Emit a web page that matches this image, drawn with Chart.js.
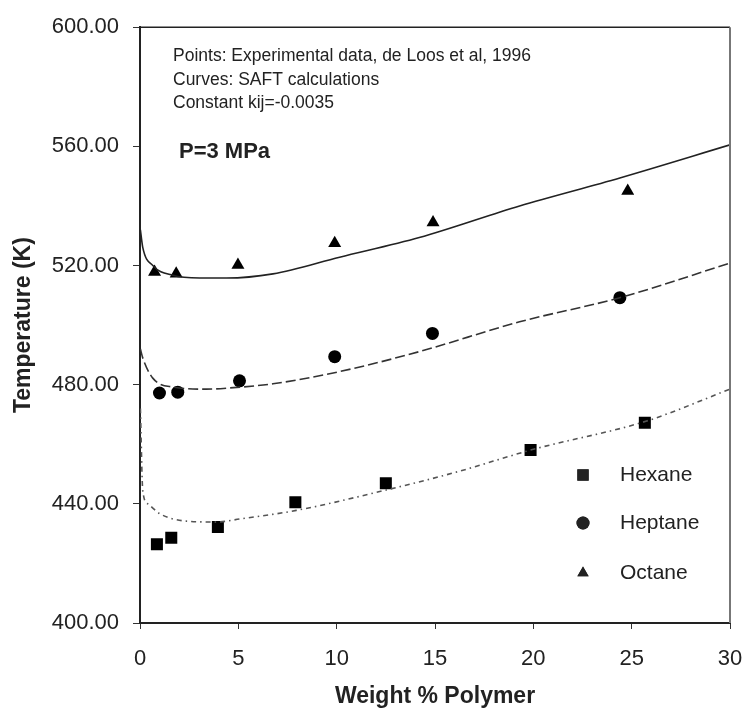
<!DOCTYPE html>
<html lang="en">
<head>
    <meta charset="UTF-8">
    <title>SAFT cloud points, P=3 MPa</title>
    <script src="https://cdn.jsdelivr.net/npm/chart.js"></script>
    <style>
        html, body { margin: 0; padding: 0; background: #fff; }
        #wrap { width: 744px; height: 708px; }
    </style>
</head>
<body>
    <div id="wrap"><canvas id="chart" width="744" height="708"></canvas></div>

    <script>
        // experimental points (de Loos et al)
        const hexaneX = [0.86, 1.59, 3.96, 7.9, 12.5, 19.86, 25.67];
        const hexaneT = [426.4, 428.6, 432.2, 440.5, 446.9, 458.1, 467.2];
        const heptaneX = [0.99, 1.92, 5.06, 9.9, 14.87, 24.4];
        const heptaneT = [477.2, 477.5, 481.3, 489.4, 497.2, 509.2];
        const octaneX = [0.74, 1.84, 4.98, 9.9, 14.9, 24.8];
        const octaneT = [517.8, 517.2, 520.2, 527.5, 534.4, 545.0];

        // SAFT curves
        const hexaneCurveX = [0.02, 0.14, 0.4, 1.0, 2.35, 3.9, 5.15, 7.95, 12.36, 16, 20, 25.76, 30];
        const hexaneCurveT = [472, 444.4, 440, 436.7, 434.2, 433.9, 435, 437.8, 444.4, 450.5, 458.3, 467.8, 478.5];
        const heptaneCurveX = [0.02, 0.14, 0.65, 1.67, 3.37, 4.55, 6.76, 10.15, 14.2, 19.3, 24.4, 30];
        const heptaneCurveT = [492, 489, 482.2, 479.2, 478.5, 478.9, 480.3, 484.4, 491.1, 501.1, 509.2, 520.8];
        const octaneCurveX = [0.02, 0.14, 0.65, 1.67, 3.03, 4.39, 6.76, 10.15, 14.2, 19.3, 24.4, 30];
        const octaneCurveT = [532, 526.1, 520, 516.7, 515.8, 515.8, 517.2, 522.8, 529.4, 540, 549.4, 560.5];

        const xTicks = [0, 5, 10, 15, 20, 25, 30];
        const yTicks = [400, 440, 480, 520, 560, 600];

        const notes = ['Points: Experimental data, de Loos et al, 1996', 'Curves: SAFT calculations', 'Constant kij=-0.0035'];
        const pressureNote = 'P=3 MPa';

        const FONT = '"Liberation Sans", Arial, sans-serif';

        function pts(xs, ys) {
            return xs.map((x, i) => ({ x: x, y: ys[i] }));
        }

        function curve(label, xs, ys, color, dash) {
            return {
                label: label,
                data: pts(xs, ys),
                showLine: true,
                pointRadius: 0,
                borderColor: color,
                borderWidth: 1.6,
                borderDash: dash,
                cubicInterpolationMode: 'monotone',
                fill: false,
                legendHidden: true
            };
        }

        function marks(label, xs, ys, style, radius) {
            return {
                label: label,
                data: pts(xs, ys),
                showLine: false,
                pointStyle: style,
                pointRadius: radius,
                pointBackgroundColor: '#000',
                pointBorderColor: '#000',
                pointBorderWidth: 0
            };
        }

        // frame + notes + legend
        const decor = {
            id: 'decor',
            afterDraw(chart) {
                const { ctx, chartArea: a } = chart;
                ctx.save();
                ctx.strokeStyle = '#222';
                ctx.lineWidth = 1.5;
                ctx.beginPath();
                ctx.moveTo(a.left, a.top);
                ctx.lineTo(a.right, a.top);
                ctx.stroke();
                ctx.strokeStyle = '#777';
                ctx.lineWidth = 2;
                ctx.beginPath();
                ctx.moveTo(a.right, a.top);
                ctx.lineTo(a.right, a.bottom);
                ctx.stroke();

                ctx.fillStyle = '#222';
                ctx.textBaseline = 'middle';
                ctx.font = '17.5px ' + FONT;
                const ny = [56, 80, 103];
                notes.forEach((t, i) => ctx.fillText(t, 173, ny[i]));
                ctx.font = 'bold 22px ' + FONT;
                ctx.fillText(pressureNote, 179, 152);

                // legend
                const items = chart.data.datasets.filter(d => !d.legendHidden);
                const ly = [475, 523, 573];
                ctx.font = '21px ' + FONT;
                items.forEach((d, i) => {
                    Chart.helpers.drawPoint(ctx, {
                        pointStyle: d.pointStyle,
                        radius: d.pointStyle === 'rect' ? 8 : 6.5,
                        borderWidth: 0,
                        rotation: 0
                    }, 583, ly[i]);
                    ctx.fill();
                    ctx.fillText(d.label, 620, ly[i]);
                });
                ctx.restore();
            }
        };

        new Chart(document.getElementById('chart'), {
            type: 'scatter',
            data: {
                datasets: [
                    curve('Octane SAFT', octaneCurveX, octaneCurveT, '#222', []),
                    curve('Heptane SAFT', heptaneCurveX, heptaneCurveT, '#333', [10, 4]),
                    curve('Hexane SAFT', hexaneCurveX, hexaneCurveT, '#555', [5, 4, 1.5, 4]),
                    marks('Hexane', hexaneX, hexaneT, 'rect', 8.5),
                    marks('Heptane', heptaneX, heptaneT, 'circle', 6.5),
                    marks('Octane', octaneX, octaneT, 'triangle', 7.5)
                ]
            },
            options: {
                responsive: false,
                animation: false,
                layout: { padding: { top: 23, right: 14, left: 0, bottom: 0 } },
                plugins: {
                    legend: { display: false },
                    tooltip: { enabled: false }
                },
                scales: {
                    x: {
                        type: 'linear',
                        min: 0,
                        max: 30,
                        afterBuildTicks: s => { s.ticks = xTicks.map(v => ({ value: v })); },
                        afterFit: s => { s.height = 85; s.paddingLeft = 0; s.paddingRight = 0; },
                        grid: { drawOnChartArea: false, tickLength: 6, color: '#333', lineWidth: 1 },
                        border: { color: '#222', width: 2 },
                        ticks: { color: '#222', padding: 17, font: { family: FONT, size: 22 }, maxRotation: 0 },
                        title: {
                            display: true,
                            text: 'Weight % Polymer',
                            color: '#222',
                            font: { family: FONT, size: 23, weight: 'bold', lineHeight: 1 },
                            padding: { top: 0, bottom: 0 }
                        }
                    },
                    y: {
                        type: 'linear',
                        min: 400,
                        max: 600,
                        afterBuildTicks: s => { s.ticks = yTicks.map(v => ({ value: v })); },
                        afterFit: s => { s.width = 140; },
                        grid: { drawOnChartArea: false, tickLength: 7, color: '#333', lineWidth: 1 },
                        border: { color: '#222', width: 2 },
                        ticks: {
                            color: '#222',
                            padding: 14,
                            font: { family: FONT, size: 22 },
                            callback: v => v.toFixed(2)
                        },
                        title: {
                            display: true,
                            text: 'Temperature (K)',
                            color: '#222',
                            font: { family: FONT, size: 23, weight: 'bold', lineHeight: 1 },
                            padding: { top: 12, bottom: 0 }
                        }
                    }
                }
            },
            plugins: [decor]
        });
    </script>
</body>
</html>
